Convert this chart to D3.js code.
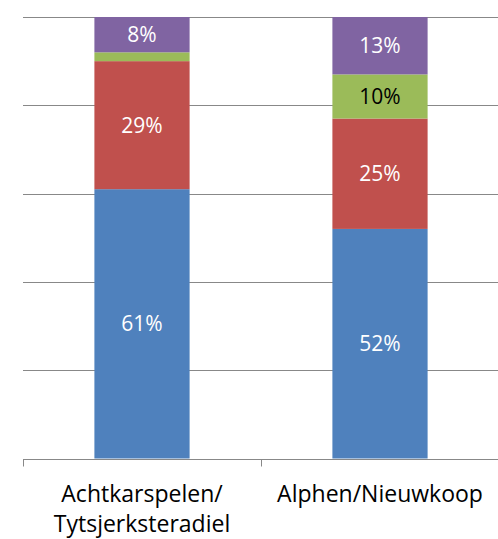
<!DOCTYPE html>
<html><head><meta charset="utf-8">
<script src="https://cdn.jsdelivr.net/npm/d3@7"></script>
<style>html,body{margin:0;padding:0;background:#fff;}svg{display:block;}</style>
</head><body>
<svg id="chart" width="498" height="539"></svg>
<script>
const categories = ["Achtkarspelen/\nTytsjerksteradiel", "Alphen/Nieuwkoop"];
const seriesNames = ["s1", "s2", "s3", "s4"];
const s1 = [61, 52];
const s2 = [29, 25];
const s3 = [2, 10];
const s4 = [8, 13];
const labels1 = ["61%", "52%"];
const labels2 = ["29%", "25%"];
const labels3 = ["", "10%"];
const labels4 = ["8%", "13%"];
const yTicks = [0, 20, 40, 60, 80, 100];

const colors = ["#4F81BD", "#C0504D", "#9BBB59", "#8064A2"];
const labelColors = ["#fff", "#fff", "#000", "#fff"];
const seriesVals = [s1, s2, s3, s4];
const seriesLabels = [labels1, labels2, labels3, labels4];

const svg = d3.select("#chart");
const mLeft = 23, mRight = 499, mTop = 17, mBottom = 458.5;
const font = "'Open Sans', sans-serif";

const x = d3.scaleBand().domain(categories).range([mLeft, mRight]).paddingInner(0.6).paddingOuter(0.3);
const xOuter = d3.scaleBand().domain(categories).range([mLeft, mRight]);
const y = d3.scaleLinear().domain([0, 100]).range([mBottom, mTop]);

// gridlines
svg.append("g").selectAll("line").data(yTicks.filter(t => t > 0)).join("line")
  .attr("x1", mLeft).attr("x2", 498)
  .attr("y1", d => Math.round(y(d)) + 0.5).attr("y2", d => Math.round(y(d)) + 0.5)
  .attr("stroke", "#888888").attr("stroke-width", 1);

// stacked data
const rows = categories.map((c, i) => {
  const o = {cat: c};
  seriesNames.forEach((s, j) => o[s] = seriesVals[j][i]);
  return o;
});
const stack = d3.stack().keys(seriesNames)(rows);

stack.forEach((layer, j) => {
  const g = svg.append("g");
  g.selectAll("rect").data(layer).join("rect")
    .attr("x", d => x(d.data.cat))
    .attr("width", x.bandwidth())
    .attr("y", d => y(d[1]))
    .attr("height", d => y(d[0]) - y(d[1]))
    .attr("fill", colors[j]);
  g.selectAll("text").data(layer).join("text")
    .attr("x", d => x(d.data.cat) + x.bandwidth() / 2)
    .attr("y", d => (y(d[0]) + y(d[1])) / 2)
    .attr("dy", "0.36em")
    .attr("text-anchor", "middle")
    .attr("font-family", font).attr("font-size", 21)
    .attr("fill", labelColors[j])
    .text((d, i) => seriesLabels[j][i]);
});

// x axis
const axisY = Math.round(y(0)) + 0.5;
svg.append("line").attr("x1", mLeft).attr("x2", 498).attr("y1", axisY).attr("y2", axisY)
  .attr("stroke", "#888888");
const tickXs = categories.map(c => xOuter(c)).concat([mRight]);
svg.append("g").selectAll("line").data(tickXs).join("line")
  .attr("x1", d => Math.round(d) + 0.5).attr("x2", d => Math.round(d) + 0.5)
  .attr("y1", axisY).attr("y2", axisY + 7).attr("stroke", "#888888");

// category labels
categories.forEach(c => {
  const lines = c.split("\n");
  const t = svg.append("text").attr("text-anchor", "middle")
    .attr("font-family", font).attr("font-size", 23).attr("fill", "#000");
  lines.forEach((ln, k) => {
    t.append("tspan").attr("x", xOuter(c) + xOuter.bandwidth() / 2)
      .attr("y", 502 + k * 30).text(ln);
  });
});
</script>
</body></html>
